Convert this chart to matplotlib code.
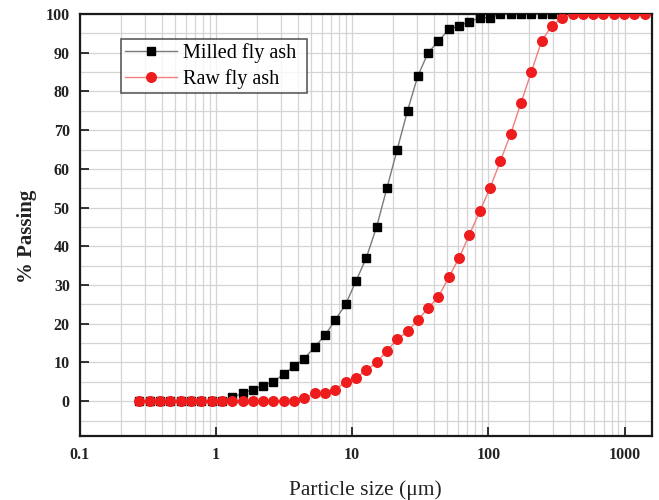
import matplotlib
matplotlib.use("Agg")
import matplotlib.pyplot as plt
from matplotlib.ticker import FixedLocator, LogLocator, NullFormatter, MultipleLocator

plt.rcParams['font.family'] = ['Liberation Serif', 'DejaVu Serif']

# Particle sizes (um)
sizes = [0.275, 0.327, 0.390, 0.464, 0.552, 0.657, 0.782, 0.931, 1.108, 1.319,
         1.570, 1.868, 2.224, 2.648, 3.151, 3.751, 4.465, 5.315, 6.326, 7.531,
         8.963, 10.67, 12.70, 15.12, 17.99, 21.42, 25.49, 30.34, 36.12, 42.99,
         51.17, 60.91, 72.51, 86.30, 102.7, 122.3, 145.5, 173.2, 206.2, 245.5,
         292.2, 347.8, 414.0, 492.8, 586.6, 698.2, 831.1, 989.0, 1177.0, 1401.0]

milled_pass = [0, 0, 0, 0, 0, 0, 0, 0, 0, 1,
               2, 3, 4, 5, 7, 9, 11, 14, 17, 21,
               25, 31, 37, 45, 55, 65, 75, 84, 90, 93,
               96, 97, 98, 99, 99, 100, 100, 100, 100, 100,
               100, 100]

raw_pass = [0, 0, 0, 0, 0, 0, 0, 0, 0, 0,
            0, 0, 0, 0, 0, 0, 0.7, 2, 2, 3,
            5, 6, 8, 10, 13, 16, 18, 21, 24, 27,
            32, 37, 43, 49, 55, 62, 69, 77, 85, 93,
            97, 99, 100, 100, 100, 100, 100, 100, 100, 100]

x_ticks = [0.1, 1, 10, 100, 1000]
x_ticklabels = ['0.1', '1', '10', '100', '1000']
y_ticks = [0, 10, 20, 30, 40, 50, 60, 70, 80, 90, 100]

W, H = 659, 500
fig = plt.figure(figsize=(W / 100, H / 100), dpi=100)
left, right, top, bottom = 79.5, 652, 14, 436
ax = fig.add_axes([left / W, 1 - bottom / H, (right - left) / W, (bottom - top) / H])

ax.plot(sizes[:len(milled_pass)], milled_pass, color='#7a7a7a', lw=1.0,
        marker='s', ms=6.2, mfc='black', mec='black', label='Milled fly ash', zorder=3)
ax.plot(sizes, raw_pass, color='#f08080', lw=1.0,
        marker='o', ms=6.9, mfc='#ee1c1c', mec='#ee1c1c', label='Raw fly ash', zorder=4)

ax.set_xscale('log')
ax.set_xlim(0.1, 1585)
ax.set_ylim(-9, 100)
ax.xaxis.set_major_locator(FixedLocator(x_ticks))
ax.set_xticklabels(x_ticklabels)
ax.xaxis.set_minor_locator(LogLocator(base=10, subs=range(2, 10), numticks=20))
ax.xaxis.set_minor_formatter(NullFormatter())
ax.yaxis.set_major_locator(FixedLocator(y_ticks))
ax.yaxis.set_minor_locator(MultipleLocator(5))

ax.grid(True, which='both', color='#d4d4d4', lw=0.9)
ax.set_axisbelow(True)

ax.tick_params(axis='both', which='major', direction='in', length=6.5, width=1.3,
               labelsize=11.5, colors='#222222')
ax.tick_params(axis='both', which='minor', length=0)
ax.tick_params(axis='x', pad=8.2)
ax.tick_params(axis='y', pad=7.0)
for lab in ax.get_xticklabels() + ax.get_yticklabels():
    lab.set_color('#222222')
    lab.set_fontweight('bold')

for s in ax.spines.values():
    s.set_linewidth(1.6)
    s.set_color('#1a1a1a')

ax.set_xlabel('Particle size (μm)', fontsize=15.5, labelpad=12, color='#222222')
ax.set_ylabel('% Passing', fontsize=15, fontweight='bold', color='#222222')
ax.yaxis.set_label_coords(-0.075, 0.474)

leg = ax.legend(loc='upper left', bbox_to_anchor=(0.072, 0.5, 0.3254, 0.441),
                mode='expand', fontsize=14.5,
                frameon=True, fancybox=False, edgecolor='#333333', handlelength=2.6,
                borderpad=0.2, labelspacing=0.3, handletextpad=0.3, borderaxespad=0)
leg.get_frame().set_linewidth(1.2)

fig.savefig('out.png', dpi=100)
